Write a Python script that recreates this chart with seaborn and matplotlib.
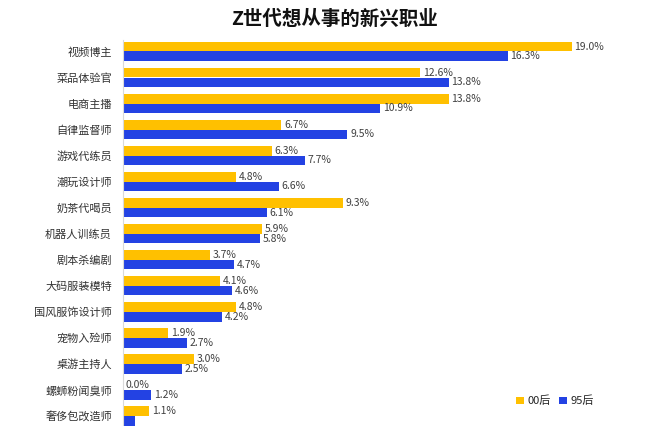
import matplotlib.pyplot as plt
import pandas as pd
import seaborn as sns

# Data
jobs = ['视频博主', '菜品体验官', '电商主播', '自律监督师', '游戏代练员', '潮玩设计师',
        '奶茶代喝员', '机器人训练员', '剧本杀编剧', '大码服装模特', '国风服饰设计师',
        '宠物入殓师', '桌游主持人', '螺蛳粉闻臭师', '奢侈包改造师']
gen00 = [19.0, 12.6, 13.8, 6.7, 6.3, 4.8, 9.3, 5.9, 3.7, 4.1, 4.8, 1.9, 3.0, 0.0, 1.1]
gen95 = [16.3, 13.8, 10.9, 9.5, 7.7, 6.6, 6.1, 5.8, 4.7, 4.6, 4.2, 2.7, 2.5, 1.2, 0.5]
groups = ['00后', '95后']

df = pd.DataFrame({
    '职业': jobs * 2,
    '占比': gen00 + gen95,
    '群体': [groups[0]] * len(jobs) + [groups[1]] * len(jobs),
})

sns.set_style("white")
plt.rcParams['font.family'] = ['Noto Sans CJK SC', 'DejaVu Sans']

fig = plt.figure(figsize=(6.49, 4.26), dpi=100)
ax = fig.add_axes([123 / 649, -14 / 426, 517 / 649, 400 / 426])

colors = ['#FFC000', '#2342E3']
sns.barplot(data=df, x='占比', y='职业', hue='群体', palette=colors,
            width=0.74, ax=ax, saturation=1, linewidth=0)

# value labels (the last blue one is cut off in the original)
for k, cont in enumerate(ax.containers):
    vals = gen00 if k == 0 else gen95
    labels = ['%.1f%%' % v for v in vals]
    if k == 1:
        labels[-1] = ''
    ax.bar_label(cont, labels=labels, padding=2, fontsize=7.5, color='#404040')

ax.set_xlim(0, 21.9)
ax.set_ylim(14.92, -0.44)
ax.set_xlabel('')
ax.set_ylabel('')
ax.set_xticks([])
ax.tick_params(axis='y', length=0, pad=8, labelsize=8, labelcolor='#333333')
for s in ['top', 'right', 'bottom']:
    ax.spines[s].set_visible(False)
ax.spines['left'].set_color('#d9d9d9')

ax.legend(loc='center left', bbox_to_anchor=(506 / 649, 1 - 401 / 426),
          bbox_transform=fig.transFigure, frameon=False, ncol=2,
          handlelength=0.7, handleheight=0.7, handletextpad=0.3,
          columnspacing=0.8, fontsize=8)

fig.text(335 / 649, 1 - 19 / 426, 'Z世代想从事的新兴职业', ha='center', va='center',
         fontsize=14, fontweight='bold', color='#111111')

fig.savefig('out.png', dpi=100)
